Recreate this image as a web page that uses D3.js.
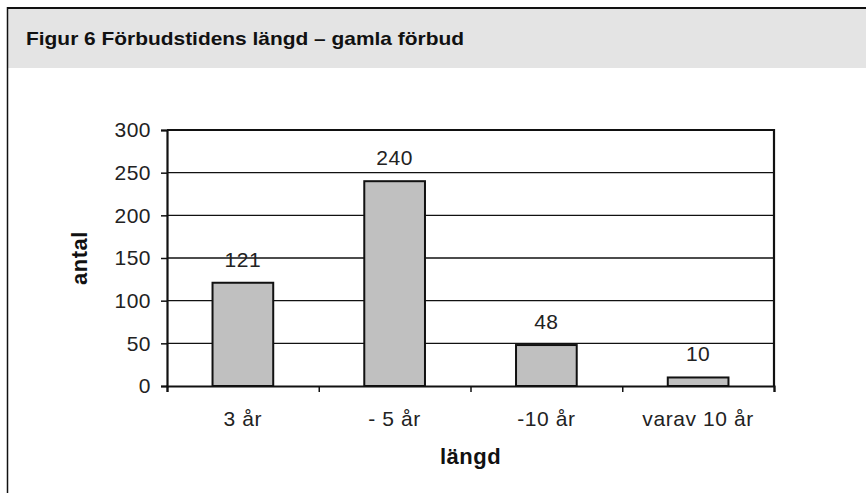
<!DOCTYPE html>
<html>
<head>
<meta charset="utf-8">
<script src="https://cdn.jsdelivr.net/npm/d3@7"></script>
<style>
  html, body { margin: 0; padding: 0; background: #fff; }
  text { font-family: "Liberation Sans", Arial, Helvetica, sans-serif; }
</style>
</head>
<body>
<div id="chart"></div>
<script>
const categories = ['3 år', '- 5 år', '-10 år', 'varav 10 år'];
const values = [121, 240, 48, 10];
const yTicks = [0, 50, 100, 150, 200, 250, 300];
const title = 'Figur 6 Förbudstidens längd – gamla förbud';
const xTitle = 'längd';
const yTitle = 'antal';

const W = 866, H = 493;
const margin = { top: 130, right: 92, bottom: 107, left: 167 };
const width = W - margin.left - margin.right;
const height = H - margin.top - margin.bottom;
const labelSize = 21;

const root = d3.select('#chart').append('svg')
    .attr('width', W)
    .attr('height', H);

// header panel and frame
root.append('rect')
    .attr('x', 8).attr('y', 8)
    .attr('width', W - 8).attr('height', 60)
    .attr('fill', '#e4e4e4');
root.append('line')
    .attr('x1', 7).attr('x2', W).attr('y1', 8).attr('y2', 8)
    .attr('stroke', '#111').attr('stroke-width', 2);
root.append('line')
    .attr('x1', 7.5).attr('x2', 7.5).attr('y1', 7).attr('y2', H)
    .attr('stroke', '#111').attr('stroke-width', 1.5);

root.append('text')
    .attr('x', 26).attr('y', 45)
    .attr('font-size', 18.5)
    .attr('font-weight', 'bold')
    .attr('fill', '#111')
    .attr('textLength', 438)
    .attr('lengthAdjust', 'spacingAndGlyphs')
    .text(title);

const svg = root.append('g')
    .attr('transform', `translate(${margin.left},${margin.top})`);

const x = d3.scaleBand()
    .domain(categories)
    .range([0, width])
    .paddingInner(0.6)
    .paddingOuter(0.3);

const y = d3.scaleLinear()
    .domain([0, 300])
    .range([height, 0]);

// gridlines
svg.append('g')
    .selectAll('line')
    .data(yTicks.filter(d => d > 0 && d < 300))
    .join('line')
    .attr('x1', 0).attr('x2', width)
    .attr('y1', d => y(d)).attr('y2', d => y(d))
    .attr('stroke', '#111').attr('stroke-width', 1.3);

// plot frame top + right
svg.append('path')
    .attr('d', `M0,${y(300)}H${width}V${height}`)
    .attr('fill', 'none')
    .attr('stroke', '#111')
    .attr('stroke-width', 2.2);

// bars
svg.append('g')
    .selectAll('rect')
    .data(values)
    .join('rect')
    .attr('x', (d, i) => x(categories[i]))
    .attr('y', d => y(d))
    .attr('width', x.bandwidth())
    .attr('height', d => height - y(d))
    .attr('fill', '#c0c0c0')
    .attr('stroke', '#111')
    .attr('stroke-width', 2);

// value labels
svg.append('g')
    .selectAll('text')
    .data(values)
    .join('text')
    .attr('x', (d, i) => x(categories[i]) + x.bandwidth() / 2)
    .attr('y', d => y(d) - 16)
    .attr('text-anchor', 'middle')
    .attr('font-size', labelSize)
    .attr('letter-spacing', 0.5)
    .attr('fill', '#222')
    .text(d => d);

// y axis
const yAxis = svg.append('g')
    .call(d3.axisLeft(y).tickValues(yTicks).tickSize(6).tickPadding(10));
yAxis.select('.domain').attr('stroke', '#111').attr('stroke-width', 2.2);
yAxis.selectAll('.tick line').attr('stroke', '#111').attr('stroke-width', 1.5);
yAxis.selectAll('.tick text')
    .attr('font-size', labelSize)
    .attr('letter-spacing', 0.5)
    .attr('fill', '#222')
    .attr('font-family', '"Liberation Sans", Arial, sans-serif');

// x axis: ticks at category boundaries
const xb = d3.scaleLinear().domain([0, categories.length]).range([0, width]);
const xAxis = svg.append('g')
    .attr('transform', `translate(0,${height})`)
    .call(d3.axisBottom(xb).tickValues(d3.range(categories.length + 1)).tickSize(6).tickFormat(''));
xAxis.select('.domain').attr('stroke', '#111').attr('stroke-width', 2.2);
xAxis.selectAll('.tick line').attr('stroke', '#111').attr('stroke-width', 1.5);

svg.append('g')
    .selectAll('text')
    .data(categories)
    .join('text')
    .attr('x', d => x(d) + x.bandwidth() / 2)
    .attr('y', height + 40)
    .attr('text-anchor', 'middle')
    .attr('font-size', labelSize)
    .attr('letter-spacing', 0.6)
    .attr('fill', '#222')
    .text(d => d);

// axis titles
svg.append('text')
    .attr('x', width / 2)
    .attr('y', height + 78)
    .attr('text-anchor', 'middle')
    .attr('font-size', 22)
    .attr('font-weight', 'bold')
    .attr('letter-spacing', 0.5)
    .attr('fill', '#111')
    .text(xTitle);

svg.append('text')
    .attr('transform', `translate(${-80},${height / 2}) rotate(-90)`)
    .attr('text-anchor', 'middle')
    .attr('font-size', 22)
    .attr('font-weight', 'bold')
    .attr('letter-spacing', 0.5)
    .attr('fill', '#111')
    .text(yTitle);
</script>
</body>
</html>
